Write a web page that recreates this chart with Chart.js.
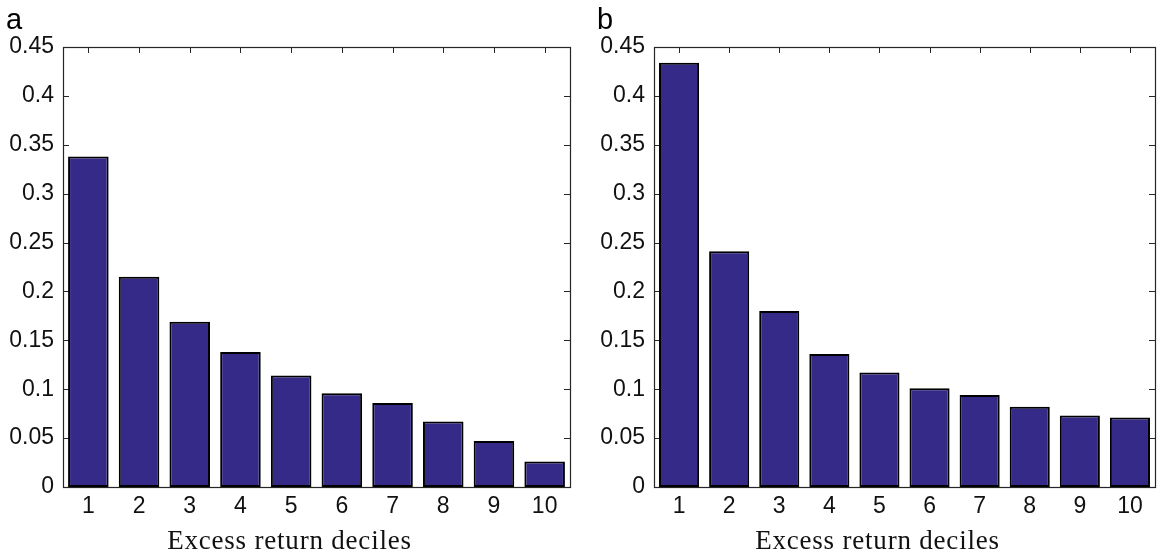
<!DOCTYPE html>
<html>
<head>
<meta charset="utf-8">
<script src="https://cdn.jsdelivr.net/npm/chart.js@4.4.1/dist/chart.umd.min.js"></script>
<style>
  html, body { margin: 0; padding: 0; background: #ffffff; }
  #wrap { position: relative; width: 1165px; height: 557px; overflow: hidden; background: #fff; }
  .pane { position: absolute; top: 0; height: 557px; }
  #paneA { left: 0; width: 580px; }
  #paneB { left: 580px; width: 585px; }
</style>
</head>
<body>
<div id="wrap">
  <div class="pane" id="paneA"><canvas id="chartA" width="580" height="557"></canvas></div>
  <div class="pane" id="paneB"><canvas id="chartB" width="585" height="557"></canvas></div>
</div>
<script>
// ---- data ----
const categories = ['1', '2', '3', '4', '5', '6', '7', '8', '9', '10'];
const valuesA = [0.338, 0.215, 0.169, 0.138, 0.114, 0.096, 0.086, 0.067, 0.047, 0.026];
const valuesB = [0.434, 0.241, 0.180, 0.136, 0.117, 0.101, 0.094, 0.082, 0.073, 0.071];
const yTicks = [0, 0.05, 0.1, 0.15, 0.2, 0.25, 0.3, 0.35, 0.4, 0.45];
const yTickLabels = ['0', '0.05', '0.1', '0.15', '0.2', '0.25', '0.3', '0.35', '0.4', '0.45'];
const panelLabels = ['a', 'b'];
const xTitle = 'Excess return deciles';

// ---- styles ----
const BAR_FILL = '#352a87';
const BAR_EDGE = '#000000';
const AXIS_COLOR = '#262626';
const TICK_FONT = { family: '"Liberation Sans", Arial, sans-serif', size: 23 };
const TICK_LEN = 6;

function framePlugin(panelLabel) {
  return {
    id: 'matlabFrame',
    beforeDatasetsDraw(chart) {
      const { ctx, chartArea: a, scales: { x, y } } = chart;
      ctx.save();
      ctx.strokeStyle = AXIS_COLOR;
      ctx.lineWidth = 1;
      ctx.beginPath();
      yTicks.forEach(v => {
        const py = Math.round(y.getPixelForValue(v)) + 0.5;
        ctx.moveTo(a.left, py); ctx.lineTo(a.left + TICK_LEN, py);
        ctx.moveTo(a.right, py); ctx.lineTo(a.right - TICK_LEN, py);
      });
      categories.forEach((c, i) => {
        const px = Math.round(x.getPixelForValue(i)) + 0.5;
        ctx.moveTo(px, a.top); ctx.lineTo(px, a.top + TICK_LEN);
        ctx.moveTo(px, a.bottom); ctx.lineTo(px, a.bottom - TICK_LEN);
      });
      ctx.stroke();
      const l = Math.round(a.left) + 0.5, r = Math.round(a.right) + 0.5;
      const t = Math.round(a.top) + 0.5, b = Math.round(a.bottom) + 0.5;
      ctx.lineWidth = 1.2;
      ctx.strokeRect(l, t, r - l, b - t);
      ctx.restore();
    },
    afterDraw(chart) {
      const { ctx, chartArea: a } = chart;
      ctx.save();
      ctx.fillStyle = '#000';
      ctx.font = '29px "Liberation Sans", Arial, sans-serif';
      ctx.textAlign = 'left';
      ctx.textBaseline = 'alphabetic';
      ctx.fillText(panelLabel, a.left - 57, 29);
      ctx.fillStyle = '#111';
      ctx.font = '27px "Liberation Serif", "Times New Roman", serif';
      if ('letterSpacing' in ctx) ctx.letterSpacing = '0.8px';
      ctx.textAlign = 'center';
      ctx.fillText(xTitle, (a.left + a.right) / 2 - 27, 549);
      ctx.restore();
    }
  };
}

function makeChart(id, values, panelLabel, yAxisWidth, rightPad) {
  return new Chart(document.getElementById(id), {
    type: 'bar',
    data: {
      labels: categories,
      datasets: [{
        data: values,
        backgroundColor: BAR_FILL,
        borderColor: BAR_EDGE,
        borderWidth: 2,
        borderSkipped: false,
        barPercentage: 0.8,
        categoryPercentage: 1.0
      }]
    },
    options: {
      responsive: false,
      animation: false,
      devicePixelRatio: 1,
      layout: { padding: { top: 47, right: rightPad, left: 0, bottom: 0 } },
      plugins: { legend: { display: false }, tooltip: { enabled: false }, title: { display: false } },
      scales: {
        x: {
          type: 'category',
          offset: true,
          grid: { display: false, drawTicks: false },
          border: { display: false },
          ticks: { color: '#111', font: TICK_FONT, padding: 6, maxRotation: 0, autoSkip: false },
          afterFit(scale) { scale.height = 70; }
        },
        y: {
          min: 0, max: 0.45,
          grid: { display: false, drawTicks: false },
          border: { display: false },
          afterBuildTicks(scale) { scale.ticks = yTicks.map(v => ({ value: v })); },
          ticks: {
            color: '#111', font: TICK_FONT, padding: 9,
            callback(value, index) { return yTickLabels[index]; }
          },
          afterFit(scale) { scale.width = yAxisWidth; }
        }
      }
    },
    plugins: [framePlugin(panelLabel)]
  });
}

makeChart('chartA', valuesA, panelLabels[0], 63, 10);
makeChart('chartB', valuesB, panelLabels[1], 74, 10);
</script>
</body>
</html>
